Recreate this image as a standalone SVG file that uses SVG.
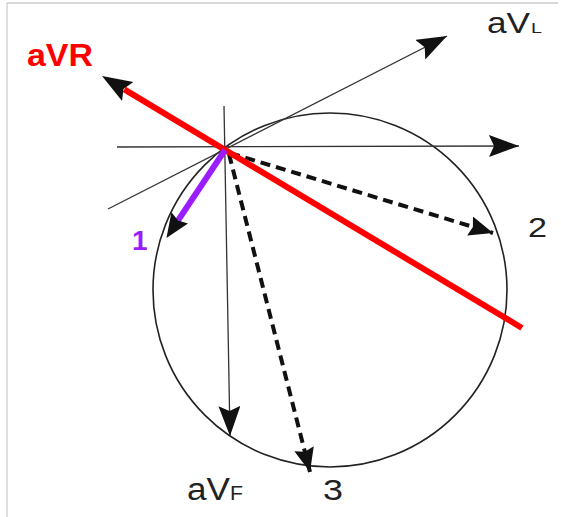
<svg xmlns="http://www.w3.org/2000/svg" width="561" height="517" viewBox="0 0 561 517">
<style>
.axis{stroke:#333;stroke-width:1.3;fill:none}
.dash{stroke:#111;stroke-width:4;stroke-dasharray:10 6;fill:none}
.lbl{font-family:"Liberation Sans",Arial,sans-serif;fill:#222}
</style>
<defs>
<marker id="big" markerUnits="userSpaceOnUse" markerWidth="32" markerHeight="24" refX="30" refY="11" orient="auto"><path d="M0,0 L30,11 L0,22 L5,11 z" fill="#111"/></marker>
<marker id="mid" markerUnits="userSpaceOnUse" markerWidth="26" markerHeight="22" refX="24" refY="10" orient="auto"><path d="M0,0 L24,10 L0,20 L3,10 z" fill="#111"/></marker>
<marker id="bigBase" markerUnits="userSpaceOnUse" markerWidth="32" markerHeight="24" refX="4" refY="11" orient="auto"><path d="M0,0 L30,11 L0,22 L5,11 z" fill="#111"/></marker>
<marker id="midBase" markerUnits="userSpaceOnUse" markerWidth="26" markerHeight="22" refX="3" refY="10" orient="auto"><path d="M0,0 L24,10 L0,20 L3,10 z" fill="#111"/></marker>
</defs>
<rect x="0" y="0" width="561" height="517" fill="#fff"/>
<path d="M7,3 H558 M7,3 V517" stroke="#ccc" stroke-width="1.3" fill="none"/>
<g id="circle"><circle cx="330" cy="290" r="177" fill="none" stroke="#222" stroke-width="1.6"/></g>
<g id="connectors">
<line class="axis" x1="117" y1="147" x2="519" y2="146" marker-end="url(#big)"/>
<line class="axis" x1="108" y1="209" x2="447" y2="36" marker-end="url(#big)"/>
<line class="axis" x1="224" y1="106" x2="230" y2="436" marker-end="url(#big)"/>
<line class="dash" x1="230" y1="153" x2="493" y2="233" marker-end="url(#mid)"/>
<line class="dash" x1="229" y1="154" x2="310" y2="472" marker-end="url(#mid)"/>
<line x1="522" y1="328" x2="124.3" y2="89.4" stroke="#f00" stroke-width="6" marker-end="url(#bigBase)"/>
<line x1="225" y1="150" x2="178.1" y2="220.4" stroke="#9a1cff" stroke-width="6" marker-end="url(#midBase)"/>
</g>
<g id="aVR"><text x="27" y="66" font-family="Liberation Sans,Arial,sans-serif" font-weight="bold" font-size="32" fill="#f00" textLength="66" lengthAdjust="spacingAndGlyphs">aVR</text></g>
<g id="aVL"><text class="lbl" x="487" y="33" font-size="29" textLength="43" lengthAdjust="spacingAndGlyphs">aV</text><text class="lbl" x="531" y="33" font-size="15" textLength="11" lengthAdjust="spacingAndGlyphs">L</text></g>
<g id="aVF"><text class="lbl" x="187" y="500" font-size="31" textLength="43" lengthAdjust="spacingAndGlyphs">aV</text><text class="lbl" x="230" y="500" font-size="21" textLength="13" lengthAdjust="spacingAndGlyphs">F</text></g>
<g id="label1"><text x="132" y="250" font-family="Liberation Sans,Arial,sans-serif" font-weight="bold" font-size="28" fill="#9a1cff">1</text></g>
<g id="label2"><text class="lbl" x="528" y="237" font-size="28" textLength="19" lengthAdjust="spacingAndGlyphs">2</text></g>
<g id="label3"><text class="lbl" x="323" y="500" font-size="29" textLength="20" lengthAdjust="spacingAndGlyphs">3</text></g>
</svg>
